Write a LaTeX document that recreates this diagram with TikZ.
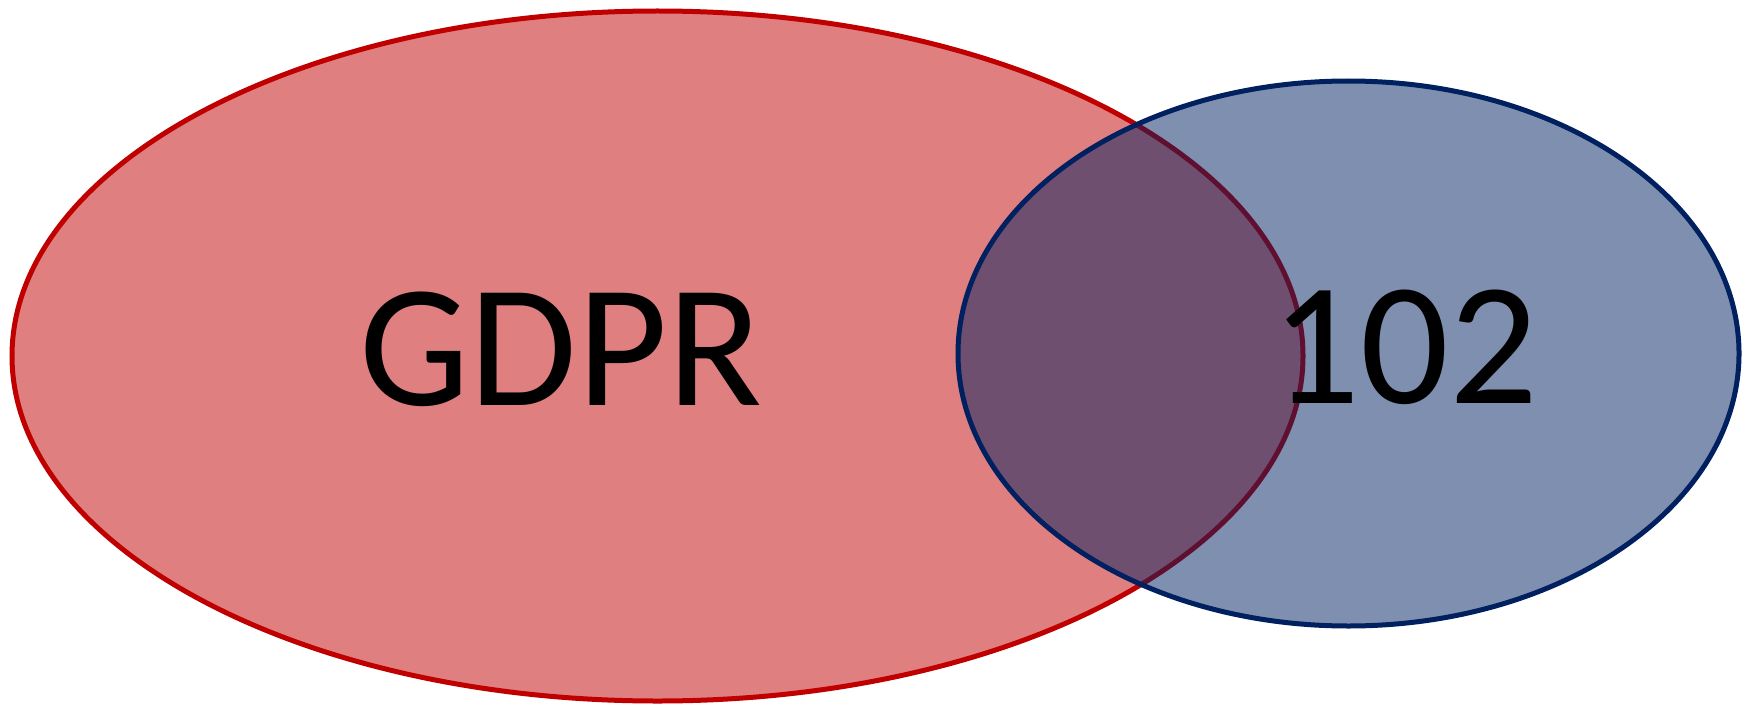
\documentclass[tikz,border=0pt]{standalone}
\usepackage{fontspec}
\setmainfont{Carlito}
\usetikzlibrary{shapes.geometric}

\definecolor{setred}{HTML}{C00000}
\definecolor{setblue}{HTML}{002060}

\tikzset{
  setshape/.style={ellipse, inner sep=0pt, outer sep=0pt, line width=5pt},
  redset/.style={setshape, draw=setred, fill=setred, fill opacity=0.5, draw opacity=1},
  blueset/.style={setshape, draw=setblue, fill=setblue, fill opacity=0.5, draw opacity=1},
  setlabel/.style={inner sep=0pt, outer sep=0pt, anchor=base, text=black,
    font=\fontsize{175}{200}\selectfont}
}

\begin{document}
\begin{tikzpicture}[x=1pt, y=-1pt]
  \useasboundingbox (0,0) rectangle (1752,706);

  % the two sets
  \node[redset, minimum width=1291pt, minimum height=690pt] (gdpr) at (657.5,356) {};
  \node[blueset, minimum width=781pt, minimum height=545pt] (art) at (1348.5,353.5) {};

  % set labels
  \node[setlabel] (gdprlabel) at (561,405) {GDPR};
  \node[setlabel] (artlabel) at (1405,403) {102};
\end{tikzpicture}
\end{document}
